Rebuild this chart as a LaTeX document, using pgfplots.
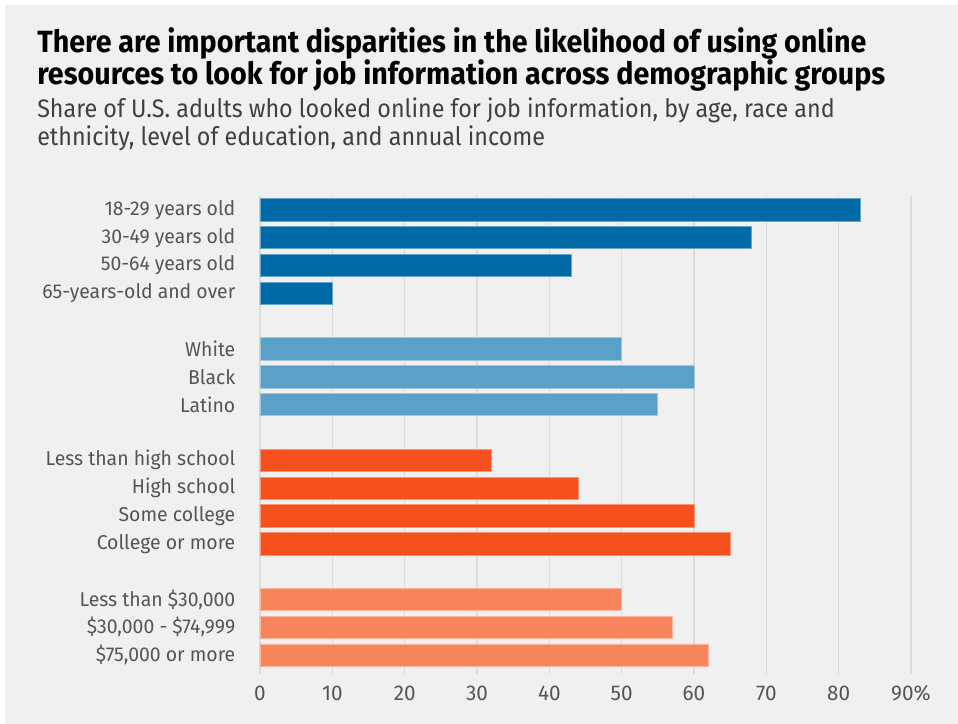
\documentclass[border=0pt]{standalone}
\usepackage{pgfplots}
\pgfplotsset{compat=1.18}
\usepackage{fontspec}
\setmainfont{Fira Sans}[FakeStretch=0.97]
\newfontfamily\titlefont{Fira Sans}[FakeStretch=0.935]
\newfontfamily\subfont{Fira Sans}[FakeStretch=0.92]
\definecolor{bg}{HTML}{F0F0F0}
\definecolor{cA}{HTML}{0069A6}
\definecolor{cB}{HTML}{5BA1C7}
\definecolor{cC}{HTML}{F5501E}
\definecolor{cD}{HTML}{F8845E}
\definecolor{gridc}{HTML}{DCDCDC}
\definecolor{labc}{HTML}{555555}
\begin{document}
\begin{tikzpicture}
\fill[white] (0pt,0pt) rectangle (718.5pt,543pt);
\fill[bg] (3.75pt,0pt) rectangle (718.5pt,539.25pt);
\node[anchor=base west,inner sep=0pt,font={\titlefont\bfseries\fontsize{23pt}{26pt}\selectfont}] at (27.75pt,503.5pt) {There are important disparities in the likelihood of using online};
\node[anchor=base west,inner sep=0pt,font={\titlefont\bfseries\fontsize{23pt}{26pt}\selectfont}] at (27.75pt,479.5pt) {resources to look for job information across demographic groups};
\node[anchor=base west,inner sep=0pt,text=black!75,font={\subfont\fontsize{19pt}{22pt}\selectfont}] at (27.75pt,454.5pt) {Share of U.S. adults who looked online for job information, by age, race and};
\node[anchor=base west,inner sep=0pt,text=black!75,font={\subfont\fontsize{19pt}{22pt}\selectfont}] at (27.75pt,433.5pt) {ethnicity, level of education, and annual income};
\begin{axis}[
  at={(195pt,41.25pt)}, anchor=south west,
  scale only axis, width=488.25pt, height=354.75pt,
  xmin=0, xmax=90, ymin=-0.5, ymax=16.5, y dir=reverse,
  xbar, bar width=0.8, bar shift=0pt,
  axis lines*=left,
  x axis line style={draw=none},
  y axis line style={draw=gridc, line width=1.5pt},
  xmajorgrids, grid style={gridc, line width=1.1pt},
  xtick={0,10,...,90},
  xticklabels={0,10,20,30,40,50,60,70,80,90\%},
  xtick align=outside, major tick length=4pt,
  xtick style={gridc, line width=1.1pt},
  ytick={0,1,2,3,5,6,7,9,10,11,12,14,15,16},
  yticklabels={18-29 years old,30-49 years old,50-64 years old,65-years-old and over,White,Black,Latino,Less than high school,High school,Some college,College or more,Less than \$30{,}000,\$30{,}000 - \$74{,}999,\$75{,}000 or more},
  ytick style={draw=none},
  yticklabel style={font=\fontsize{15pt}{17pt}\selectfont, text=labc, xshift=-11pt},
  xticklabel style={font=\fontsize{16pt}{18pt}\selectfont, text=labc, yshift=-5pt},
  /pgf/number format/assume math mode=true,
  clip=false,
]
\addplot[fill=cA, draw=cA!60!white, line width=0.6pt] coordinates {(83,0) (68,1) (43,2) (10,3)};
\addplot[fill=cB, draw=cB!60!white, line width=0.6pt] coordinates {(50,5) (60,6) (55,7)};
\addplot[fill=cC, draw=cC!60!white, line width=0.6pt] coordinates {(32,9) (44,10) (60,11) (65,12)};
\addplot[fill=cD, draw=cD!60!white, line width=0.6pt] coordinates {(50,14) (57,15) (62,16)};
\end{axis}
\end{tikzpicture}
\end{document}
